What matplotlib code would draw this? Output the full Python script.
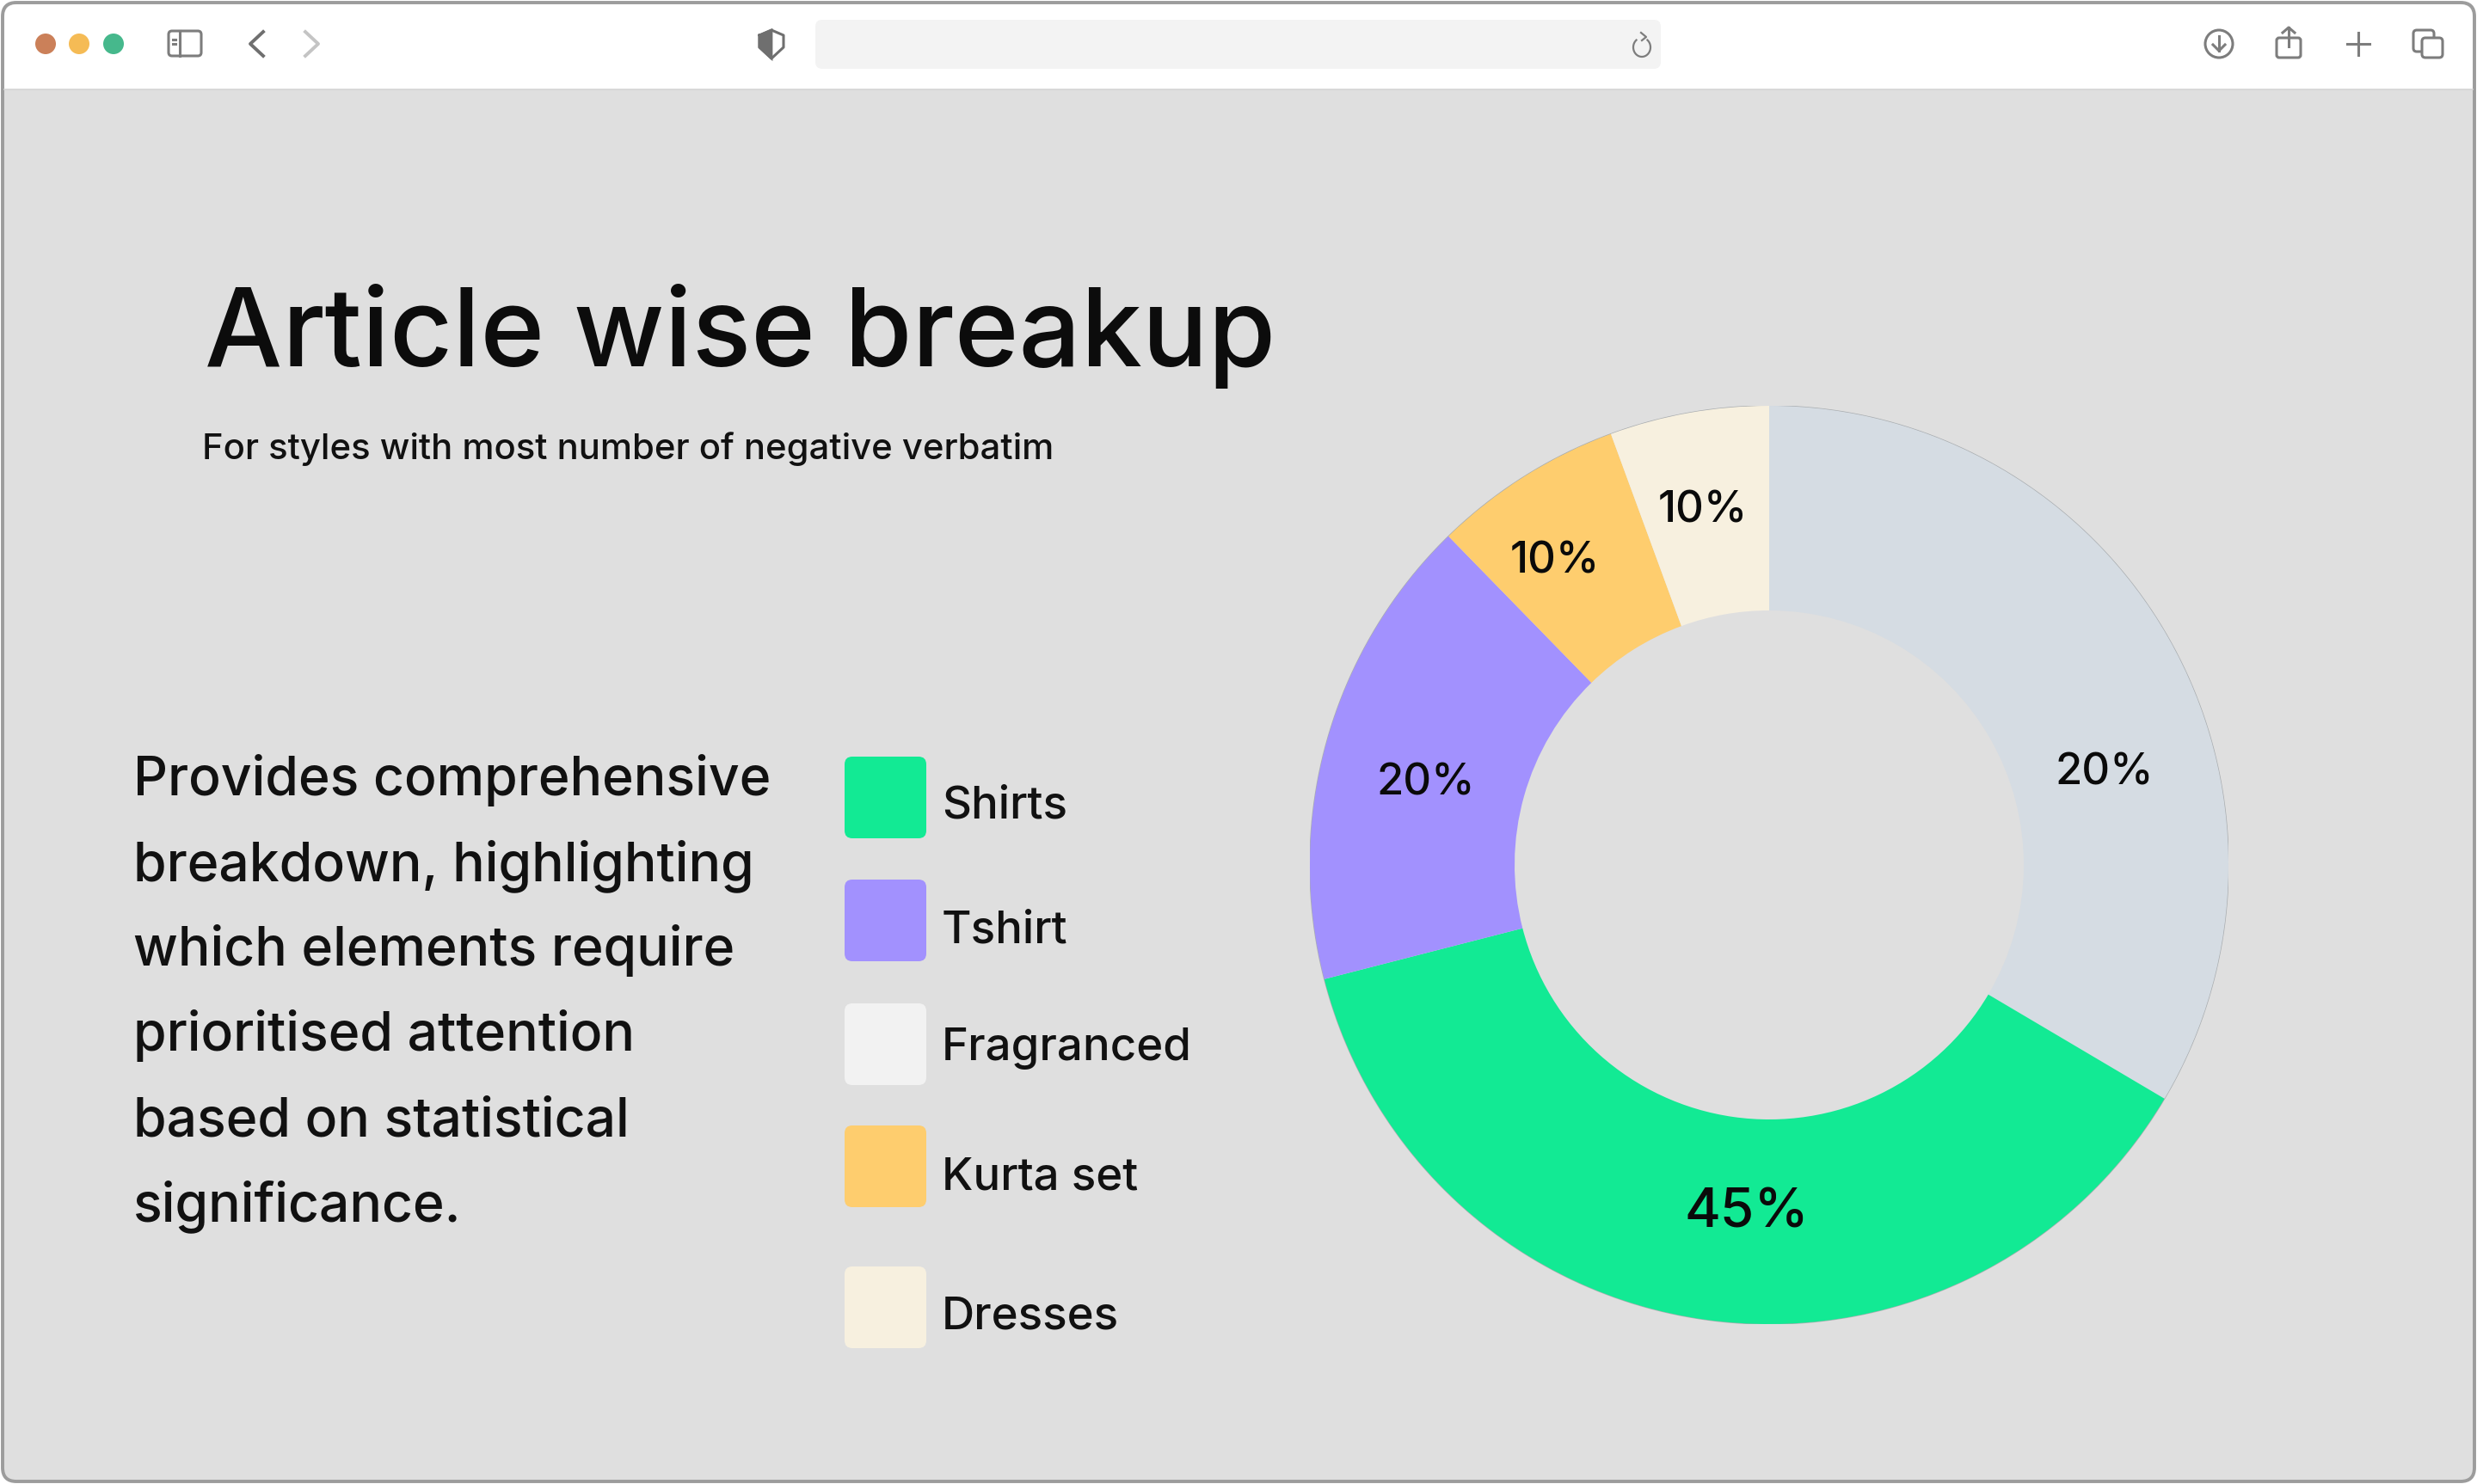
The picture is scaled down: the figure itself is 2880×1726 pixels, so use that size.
import numpy as np
import matplotlib
matplotlib.use('Agg')
import matplotlib.pyplot as plt
from matplotlib.patches import FancyBboxPatch, Circle, Rectangle

plt.rcParams['font.family'] = ['Inter', 'DejaVu Sans']

title = 'Article wise breakup'
subtitle = 'For styles with most number of negative verbatim'
paragraph = ['Provides comprehensive', 'breakdown, highlighting', 'which elements require',
             'prioritised attention', 'based on statistical', 'significance.']

legend_names = ['Shirts', 'Tshirt', 'Fragranced', 'Kurta set', 'Dresses']
legend_colors = ['#12ea94', '#a291fe', '#f2f2f2', '#fecd6e', '#f7f0df']

# slice sizes are read from the drawn angles, the printed labels don't add up to 100
slice_shares = [33.5, 37.5, 16.7, 6.7, 5.6]
slice_colors = ['#d5dce3', '#12ea94', '#a291fe', '#fecd6e', '#f7f0df']
slice_labels = ['20%', '45%', '20%', '10%', '10%']

BG = '#dfdfdf'
ICON = '#7d7d7d'

fig = plt.figure(figsize=(14.4, 8.63), dpi=200, facecolor='white')
ax = fig.add_axes([0, 0, 1, 1])
ax.set_xlim(0, 2880)
ax.set_ylim(1726, 0)
ax.axis('off')

# window
ax.add_patch(FancyBboxPatch((3, 3), 2874, 1720, boxstyle='round,pad=0,rounding_size=16',
                            fc=BG, ec='#9c9c9c', lw=1.4, zorder=1))
ax.add_patch(FancyBboxPatch((5, 5), 2870, 140, boxstyle='round,pad=0,rounding_size=15',
                            fc='white', ec='none', zorder=2))
ax.add_patch(Rectangle((5, 104), 2870, 60, fc=BG, ec='none', zorder=3))
ax.plot([5, 2875], [104, 104], color='#d4d4d4', lw=0.6, zorder=4)
ax.add_patch(FancyBboxPatch((948, 23), 983, 57, boxstyle='round,pad=0,rounding_size=8',
                            fc='#f3f3f3', ec='none', zorder=4))

# traffic lights
for x, c in zip([53, 92, 132], ['#cb8059', '#f5bb55', '#46b88c']):
    ax.add_patch(Circle((x, 51), 12, fc=c, ec='none', zorder=5))

lw = 1.1
ax.add_patch(FancyBboxPatch((196, 36), 38, 29, boxstyle='round,pad=0,rounding_size=4',
                            fc='none', ec=ICON, lw=lw, zorder=5))
ax.plot([209, 209], [36, 65], color=ICON, lw=lw, zorder=5)
ax.plot([201, 204], [46, 46], color=ICON, lw=lw, zorder=5)
ax.plot([201, 204], [51, 51], color=ICON, lw=lw, zorder=5)
ax.plot([306, 291, 306], [37, 51, 65], color='#6f6f6f', lw=1.4, zorder=5)
ax.plot([355, 370, 355], [37, 51, 65], color='#c4c4c4', lw=1.4, zorder=5)

# shield
sx = np.array([883, 897, 911, 911, 897, 883, 883])
sy = np.array([41, 35, 41, 55, 68, 55, 41])
ax.plot(sx, sy, color='#6f6f6f', lw=1.1, zorder=5)
ax.fill([883, 897, 897, 883], [41, 35, 68, 55], color='#6f6f6f', zorder=5)

# reload
t = np.radians(np.linspace(-50, 230, 40))
ax.plot(1909 + 10 * np.cos(t), 55 + 11 * np.sin(t), color=ICON, lw=0.8, zorder=5)
ax.plot([1908, 1914, 1909], [38, 43, 47], color=ICON, lw=0.8, zorder=5)

# right icons
ax.add_patch(Circle((2580, 51), 16, fc='none', ec=ICON, lw=lw, zorder=5))
ax.plot([2580, 2580], [42, 59], color=ICON, lw=lw, zorder=5)
ax.plot([2573, 2580, 2587], [52, 59, 52], color=ICON, lw=lw, zorder=5)
ax.add_patch(FancyBboxPatch((2647, 44), 28, 23, boxstyle='round,pad=0,rounding_size=3',
                            fc='white', ec=ICON, lw=lw, zorder=5))
ax.plot([2661, 2661], [32, 54], color=ICON, lw=lw, zorder=6)
ax.plot([2654, 2661, 2668], [38, 32, 38], color=ICON, lw=lw, zorder=6)
ax.plot([2742, 2742], [38, 64], color=ICON, lw=lw, zorder=5)
ax.plot([2729, 2755], [51, 51], color=ICON, lw=lw, zorder=5)
ax.add_patch(FancyBboxPatch((2806, 35), 24, 25, boxstyle='round,pad=0,rounding_size=4',
                            fc='white', ec=ICON, lw=lw, zorder=5))
ax.add_patch(FancyBboxPatch((2816, 44), 24, 23, boxstyle='round,pad=0,rounding_size=4',
                            fc='white', ec=ICON, lw=lw, zorder=6))

# headings
ax.text(238, 426, title, fontsize=45.8, fontweight='medium', color='#0c0c0c', va='baseline', zorder=6)
ax.text(235, 534, subtitle, fontsize=15.05, fontweight='medium', color='#111111', va='baseline', zorder=6)

for line, y in zip(paragraph, [925, 1024, 1123, 1222, 1321, 1420]):
    ax.text(155, y, line, fontsize=22.5, fontweight='medium', color='#111111', va='baseline', zorder=6)

# legend
swatch_tops = [880, 1023, 1167, 1309, 1473]
text_y = [951, 1096, 1233, 1383, 1545]
for name, c, top, y in zip(legend_names, legend_colors, swatch_tops, text_y):
    ax.add_patch(FancyBboxPatch((982, top), 95, 95, boxstyle='round,pad=0,rounding_size=9',
                                fc=c, ec='none', zorder=6))
    ax.text(1095, y, name, fontsize=19, fontweight='medium', color='#111111', va='baseline', zorder=6)

# donut
cx, cy, R, r = 2057, 1006, 534, 296
pie_ax = fig.add_axes([(cx - R) / 2880, 1 - (cy + R) / 1726, 2 * R / 2880, 2 * R / 1726])
pie_ax.pie(slice_shares, colors=slice_colors, startangle=90, counterclock=False, radius=1,
           wedgeprops=dict(width=1 - r / R, edgecolor='none'))
pie_ax.set_xlim(-1, 1)
pie_ax.set_ylim(-1, 1)
pie_ax.patch.set_alpha(0)
t = np.linspace(0, 2 * np.pi, 300)
pie_ax.plot(np.cos(t), np.sin(t), color='#a9adb0', lw=0.5, zorder=0)

label_xy = [(2447, 899), (2031, 1411), (1658, 911), (1808, 653), (1980, 594)]
label_size = [18.3, 23, 18.3, 18.3, 18.3]
for lab, (x, y), fs in zip(slice_labels, label_xy, label_size):
    pie_ax.text((x - cx) / R, -(y - cy) / R, lab, fontsize=fs, fontweight='medium', color='#0a0a0a',
                ha='center', va='center', zorder=10)

fig.savefig('out.png', dpi=200, facecolor='white')
